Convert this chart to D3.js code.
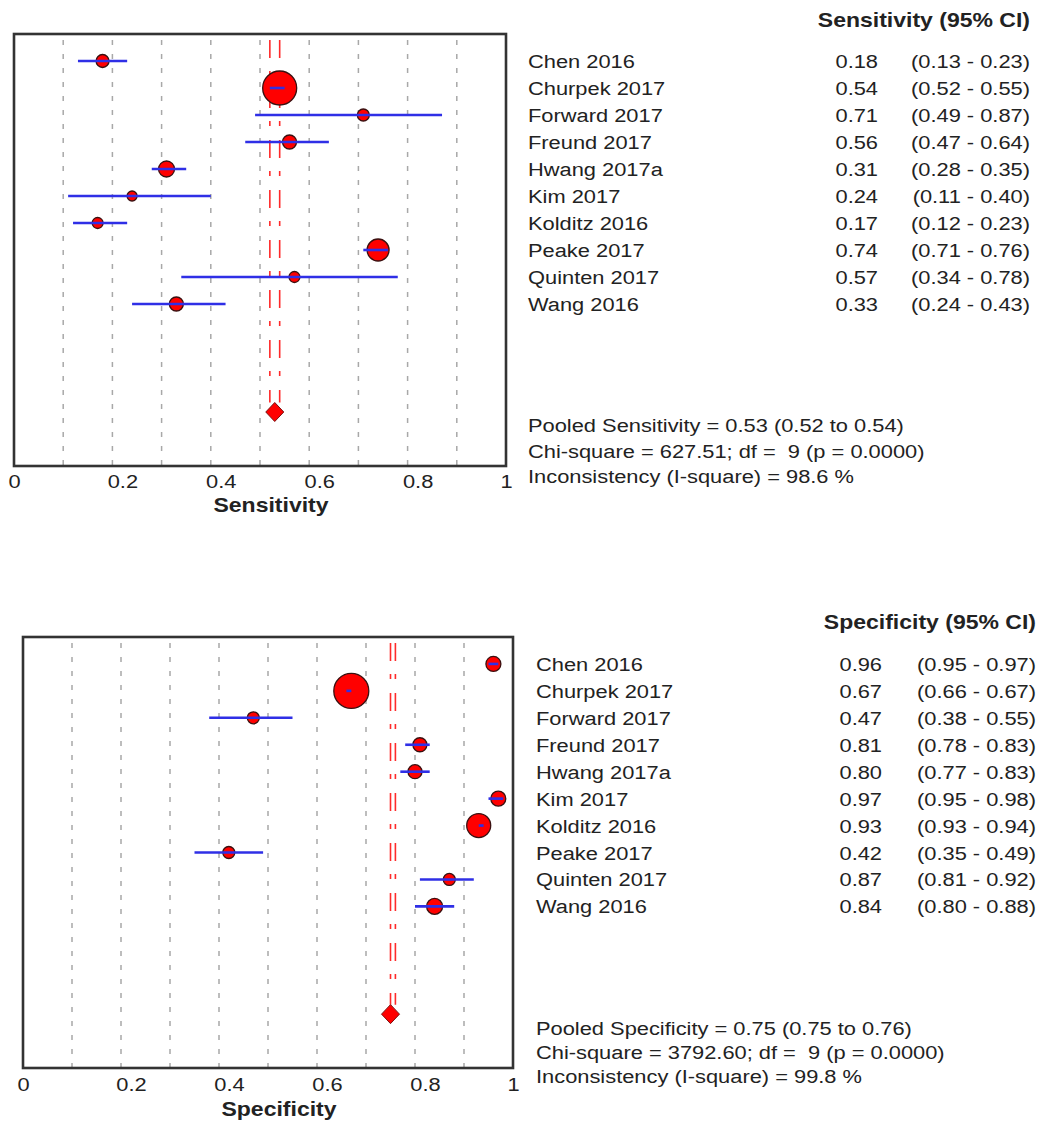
<!DOCTYPE html>
<html>
<head>
<meta charset="utf-8">
<script src="https://cdn.jsdelivr.net/npm/d3@7"></script>
<style>
  html, body { margin: 0; padding: 0; background: #fff; }
  svg { display: block; }
  text { font-family: "Liberation Sans", Arial, sans-serif; fill: #222; white-space: pre; }
</style>
</head>
<body>
<svg id="chart" width="1040" height="1122"></svg>
<script>
// Study labels (shared by both panels)
const studies = ["Chen 2016", "Churpek 2017", "Forward 2017", "Freund 2017", "Hwang 2017a",
                 "Kim 2017", "Kolditz 2016", "Peake 2017", "Quinten 2017", "Wang 2016"];

// Sensitivity estimates and 95% CI
const sensEst = [0.18, 0.54, 0.71, 0.56, 0.31, 0.24, 0.17, 0.74, 0.57, 0.33];
const sensLo  = [0.13, 0.52, 0.49, 0.47, 0.28, 0.11, 0.12, 0.71, 0.34, 0.24];
const sensHi  = [0.23, 0.55, 0.87, 0.64, 0.35, 0.40, 0.23, 0.76, 0.78, 0.43];
const sensWeight = [42, 289, 36, 49, 64, 25, 30, 121, 30, 49];
const sensPooled = [0.53, 0.52, 0.54];   // estimate, lower, upper
const sensSummary = ["Pooled Sensitivity = 0.53 (0.52 to 0.54)",
                     "Chi-square = 627.51; df =  9 (p = 0.0000)",
                     "Inconsistency (I-square) = 98.6 %"];

// Specificity estimates and 95% CI
const specEst = [0.96, 0.67, 0.47, 0.81, 0.80, 0.97, 0.93, 0.42, 0.87, 0.84];
const specLo  = [0.95, 0.66, 0.38, 0.78, 0.77, 0.95, 0.93, 0.35, 0.81, 0.80];
const specHi  = [0.97, 0.67, 0.55, 0.83, 0.83, 0.98, 0.94, 0.49, 0.92, 0.88];
const specWeight = [56, 306, 36, 49, 49, 56, 144, 36, 36, 64];
const specPooled = [0.75, 0.75, 0.76];
const specSummary = ["Pooled Specificity = 0.75 (0.75 to 0.76)",
                     "Chi-square = 3792.60; df =  9 (p = 0.0000)",
                     "Inconsistency (I-square) = 99.8 %"];

// Axis ticks
const tickValues = [0, 0.2, 0.4, 0.6, 0.8, 1];
const gridValues = [0.1, 0.2, 0.3, 0.4, 0.5, 0.6, 0.7, 0.8, 0.9];

const svg = d3.select("#chart");
const fmt = d3.format(".2f");
const SX = 1.15; // horizontal text stretch
const rScale = d3.scaleSqrt().domain([0, 306]).range([0, 17.5]);

function stretched(sel, x, y) {
  return sel.attr("transform", `translate(${x},${y}) scale(${SX},1)`);
}

function panel(cfg) {
  const g = svg.append("g");
  const x = d3.scaleLinear().domain([0, 1]).range([cfg.left, cfg.right]);
  const y = d3.scaleLinear().domain([-1, 15]).range([cfg.top, cfg.bottom]);
  const rows = studies.map((s, i) => ({
    name: s, est: cfg.est[i], lo: cfg.lo[i], hi: cfg.hi[i], w: cfg.weight[i], row: i
  }));

  // plot background
  g.append("rect").attr("x", cfg.left).attr("y", cfg.top)
    .attr("width", cfg.right - cfg.left).attr("height", cfg.bottom - cfg.top)
    .attr("fill", "#fff");

  // dashed vertical grid
  g.selectAll(".grid").data(gridValues).join("line")
    .attr("x1", d => x(d)).attr("x2", d => x(d))
    .attr("y1", cfg.top + 6).attr("y2", cfg.bottom)
    .attr("stroke", "#a8a8a8").attr("stroke-width", 1.5)
    .attr("stroke-dasharray", "5,9");

  // pooled CI reference lines
  const pooledRow = 13;
  const diamondH = 9.5, diamondW = 9;
  g.selectAll(".pool").data([cfg.pooled[1], cfg.pooled[2]]).join("line")
    .attr("x1", d => x(d)).attr("x2", d => x(d))
    .attr("y1", cfg.top + 6).attr("y2", y(pooledRow) - diamondH)
    .attr("stroke", "#ff2a2a").attr("stroke-width", 1.6)
    .attr("stroke-dasharray", "18,13,5,14");

  // study markers sized by weight
  g.selectAll(".pt").data(rows).join("circle")
    .attr("cx", d => x(d.est)).attr("cy", d => y(d.row))
    .attr("r", d => rScale(d.w))
    .attr("fill", "#ff0000").attr("stroke", "#3a1010").attr("stroke-width", 1.3);

  // confidence intervals
  g.selectAll(".ci").data(rows).join("line")
    .attr("x1", d => x(d.lo)).attr("x2", d => x(d.hi))
    .attr("y1", d => y(d.row)).attr("y2", d => y(d.row))
    .attr("stroke", "#2f2fe6").attr("stroke-width", 2.6);

  // pooled diamond
  const px = x(cfg.pooled[0]), py = y(pooledRow);
  g.append("path")
    .attr("d", `M${px - diamondW},${py} L${px},${py - diamondH} L${px + diamondW},${py} L${px},${py + diamondH} Z`)
    .attr("fill", "#ff0000").attr("stroke", "#7a1010").attr("stroke-width", 1);

  // frame
  g.append("rect").attr("x", cfg.left).attr("y", cfg.top)
    .attr("width", cfg.right - cfg.left).attr("height", cfg.bottom - cfg.top)
    .attr("fill", "none").attr("stroke", "#333").attr("stroke-width", 2.6);

  // x axis
  const axis = g.append("g").attr("transform", `translate(0,${cfg.bottom})`)
    .call(d3.axisBottom(x).tickValues(tickValues).tickSize(0)
      .tickFormat(d => (d === 0 || d === 1) ? String(d) : d3.format(".1f")(d)));
  axis.select(".domain").remove();
  axis.selectAll("text")
    .attr("y", null).attr("dy", null)
    .attr("font-size", 19).attr("fill", "#222")
    .style("font-family", "'Liberation Sans', Arial, sans-serif")
    .attr("text-anchor", "middle")
    .each(function(d) {
      const dx = (d === 0 || d === 1) ? 0 : 10;
      stretched(d3.select(this), dx, cfg.tickBase - cfg.bottom);
    });

  // axis title
  stretched(g.append("text"), x(0.5) + 11, cfg.titleBase)
    .attr("text-anchor", "middle").attr("font-size", 20).attr("font-weight", "bold")
    .text(cfg.title);

  // column header
  stretched(g.append("text"), cfg.ciEnd, cfg.headBase)
    .attr("text-anchor", "end").attr("font-size", 20).attr("font-weight", "bold")
    .text(cfg.title + " (95% CI)");

  // study table
  const tr = g.selectAll(".row").data(rows).join("g");
  tr.append("text").each(function(d) { stretched(d3.select(this), cfg.nameX, y(d.row) + 7); })
    .attr("font-size", 19).text(d => d.name);
  tr.append("text").each(function(d) { stretched(d3.select(this), cfg.valEnd, y(d.row) + 7); })
    .attr("font-size", 19).attr("text-anchor", "end").text(d => fmt(d.est));
  tr.append("text").each(function(d) { stretched(d3.select(this), cfg.ciEnd, y(d.row) + 7); })
    .attr("font-size", 19).attr("text-anchor", "end")
    .text(d => `(${fmt(d.lo)} - ${fmt(d.hi)})`);

  // pooled summary
  g.selectAll(".sum").data(cfg.summary).join("text")
    .each(function(d, i) { stretched(d3.select(this), cfg.nameX, cfg.sumBase[i]); })
    .attr("font-size", 19).text(d => d);
}

panel({
  left: 14, right: 506, top: 34, bottom: 466,
  est: sensEst, lo: sensLo, hi: sensHi, weight: sensWeight, pooled: sensPooled,
  summary: sensSummary, title: "Sensitivity",
  tickBase: 488, titleBase: 512, headBase: 27,
  nameX: 528, valEnd: 878, ciEnd: 1030,
  sumBase: [432, 458, 483]
});

panel({
  left: 23, right: 513, top: 637, bottom: 1068,
  est: specEst, lo: specLo, hi: specHi, weight: specWeight, pooled: specPooled,
  summary: specSummary, title: "Specificity",
  tickBase: 1091, titleBase: 1116, headBase: 629,
  nameX: 536, valEnd: 882, ciEnd: 1036,
  sumBase: [1035, 1059, 1083]
});
</script>
</body>
</html>
